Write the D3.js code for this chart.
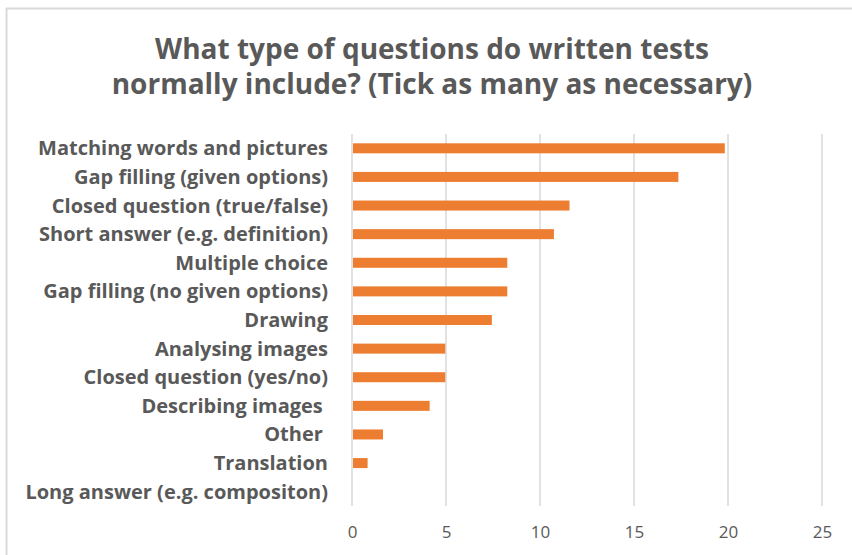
<!DOCTYPE html>
<html lang="en">
	<head>
		<meta charset="UTF-8">
		<title>Written tests</title>
		<script src="https://cdnjs.cloudflare.com/ajax/libs/d3/7.8.5/d3.min.js"></script>
		<style>
			body { margin: 0; background: #fff; }
			text { font-family: "Open Sans", Lato, sans-serif; }
		</style>
		<script>
var categories = [
	"Matching words and pictures",
	"Gap filling (given options)",
	"Closed question (true/false)",
	"Short answer (e.g. definition)",
	"Multiple choice",
	"Gap filling (no given options)",
	"Drawing",
	"Analysing images",
	"Closed question (yes/no)",
	"Describing images ",
	"Other ",
	"Translation",
	"Long answer (e.g. compositon)"
];
var values = [19.83, 17.36, 11.57, 10.74, 8.26, 8.26, 7.44, 4.96, 4.96, 4.13, 1.65, 0.83, 0];
var xTicks = [0, 5, 10, 15, 20, 25];
var titleLines = ["What type of questions do written tests", "normally include? (Tick as many as necessary)"];

function makeChart() {
	var svg = d3.select("svg");
	var W = 852, H = 555;
	var left = 352, right = 822, top = 134, bottom = 506;

	// chart frame (only top & left edges show)
	svg.append("line").attr("x1", 6).attr("x2", W).attr("y1", 8.5).attr("y2", 8.5)
		.attr("stroke", "#d9d9d9").attr("stroke-width", 2);
	svg.append("line").attr("x1", 6.5).attr("x2", 6.5).attr("y1", 8).attr("y2", H)
		.attr("stroke", "#d9d9d9").attr("stroke-width", 2);

	var scX = d3.scaleLinear().domain([0, 25]).range([left, right]);
	var scY = d3.scaleBand().domain(categories).range([top, bottom])
		.paddingInner(0.65).paddingOuter(0.325);

	// grid
	svg.append("g").selectAll("line").data(xTicks).enter()
		.append("line")
		.attr("x1", d => scX(d)).attr("x2", d => scX(d))
		.attr("y1", top).attr("y2", bottom)
		.attr("stroke", "#d9d9d9").attr("stroke-width", 1.5);

	// bars
	svg.append("g").selectAll("rect").data(categories).enter()
		.append("rect")
		.attr("x", scX(0) + 1)
		.attr("y", d => scY(d))
		.attr("width", (d, i) => Math.max(0, scX(values[i]) - scX(0) - 1))
		.attr("height", scY.bandwidth())
		.attr("fill", "#ed7d31");

	// category labels
	svg.append("g").selectAll("text").data(categories).enter()
		.append("text")
		.attr("x", 328)
		.attr("y", d => scY(d) + scY.bandwidth() / 2)
		.attr("dy", "0.35em")
		.attr("text-anchor", "end")
		.attr("xml:space", "preserve")
		.style("white-space", "pre")
		.attr("font-size", 20)
		.attr("font-weight", "bold")
		.attr("fill", "#595959")
		.text(d => d);

	// x axis
	var ax = svg.append("g").attr("transform", `translate(0,${bottom})`)
		.call(d3.axisBottom(scX).tickValues(xTicks).tickSize(0).tickPadding(20));
	ax.select(".domain").remove();
	ax.selectAll("text").attr("font-size", 17).attr("fill", "#595959")
		.style("font-family", "\"Open Sans\", sans-serif");

	// title
	svg.append("g").selectAll("text").data(titleLines).enter()
		.append("text")
		.attr("x", 432)
		.attr("y", (d, i) => 59 + i * 35)
		.attr("text-anchor", "middle")
		.attr("font-size", 28)
		.attr("font-weight", "bold")
		.attr("fill", "#595959")
		.text(d => d);
}
		</script>
	</head>
	<body onload="makeChart()">
		<svg width="852" height="555"></svg>
	</body>
</html>
